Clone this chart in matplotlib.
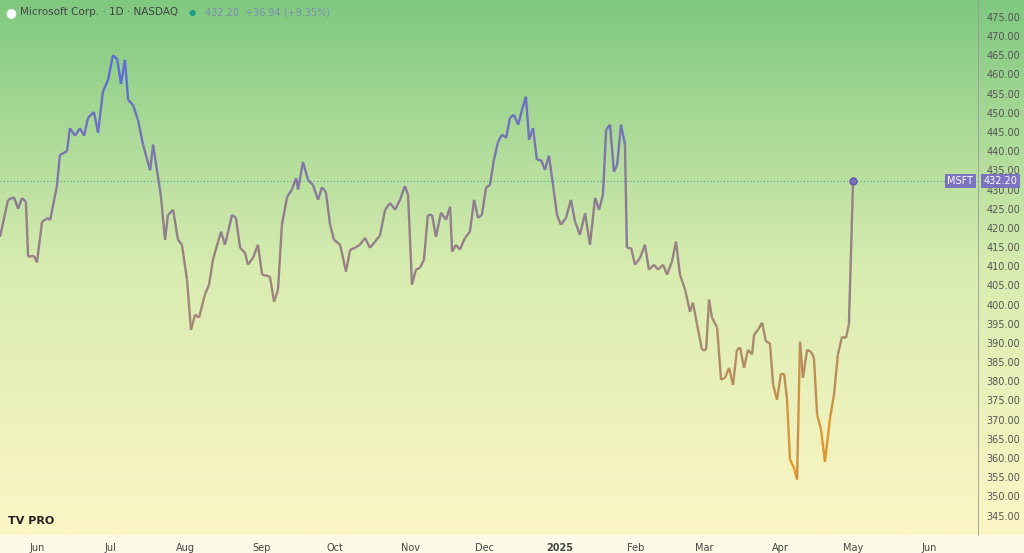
import matplotlib
matplotlib.use("Agg")
import matplotlib.pyplot as plt
import matplotlib.dates as mdates
import numpy as np
import pandas as pd
from matplotlib.collections import LineCollection
from matplotlib.colors import LinearSegmentedColormap

# ---------------------------------------------------------------------------
# 数据：MSFT 日线收盘价
# ---------------------------------------------------------------------------
START_DATE = "2024-05-17"
DAY_OFFSETS = [
    0, 3.3, 5.7, 7.4, 9, 10.6, 11.5, 13.9, 15.1, 17.2, 19.6, 20.5, 23.3, 24.5, 27.4, 28.6,
    30.7, 32.7, 34.4, 36, 38.4, 40.1, 42.1, 44.2, 46.2, 47.9, 49.5, 51.1, 52.4, 54.4, 56.4,
    58.5, 61.4, 62.6, 64.2, 65.8, 67.5, 68.7, 70.8, 72.8, 74.4, 76.5, 78.1, 79.8, 81.4, 83.8,
    85.5, 87.1, 89.2, 90.4, 92, 93.3, 94.9, 96.5, 98.2, 100.2, 101.4, 103.5, 105.5, 107.2,
    110.4, 112.1, 113.7, 115.3, 117.4, 119.4, 121.1, 121.9, 123.9, 126, 128, 130.1, 131.7,
    133.3, 135, 136.6, 139.1, 141.5, 143.2, 145.2, 147.2, 149.3, 151.3, 153.4, 155.4, 157.5,
    159.5, 161.6, 163.6, 165.6, 166.9, 168.5, 170.1, 171.8, 173.4, 175, 176.7, 178.3, 180.4,
    182.4, 184.1, 184.9, 186.5, 188.1, 190.2, 192.2, 193.9, 195.5, 197.1, 198.8, 200.4, 202,
    203.7, 205.3, 207, 208.6, 210.2, 211.9, 213.5, 215.1, 216.4, 218, 219.6, 221.3, 222.9,
    224.5, 226.2, 227.8, 229.4, 231.5, 233.5, 235.2, 237.2, 239.3, 241.3, 243.4, 245, 246.6,
    247.9, 249.5, 251.1, 252.4, 254, 255.6, 256.4, 258.1, 259.7, 261.8, 263.8, 265.4, 267.5,
    269.1, 271.2, 272.8, 274.8, 276.5, 278.1, 280.2, 282.2, 283.4, 285.1, 287.1, 288.8, 290,
    291.2, 293.3, 294.9, 296.5, 298.2, 299.8, 301.4, 302.7, 304.3, 305.9, 307.6, 308.4, 310,
    311.7, 313.3, 314.9, 316.2, 317.8, 319.4, 320.7, 321.9, 323.1, 324.7, 326, 327.2, 328.4,
    330.1, 331.7, 332.9, 334.2, 335.8, 337.4, 339.5, 341.1, 342.7, 344.4, 346, 347.2, 348.9,
]
CLOSES = [
    417.7, 427.3, 428, 425, 427.8, 426.8, 412.5, 412.7, 411, 421.6, 422.6, 422, 431, 439, 440, 446,
    444, 446, 444, 448.7, 450.2, 444.8, 455.5, 458.6, 465, 464, 457.5, 463.8, 453.4, 452, 448.2,
    441.7, 435, 441.7, 435, 428.4, 416.9, 423.4, 424.7, 416.9, 415.6, 406.5, 393.4, 397.4, 396.6, 402.6,
    405.2, 411.7, 416.4, 419, 415.6, 419, 423.4, 422.6, 414.8, 413.5, 410.4, 412.2, 415.6, 407.8,
    407.3, 400.7, 403.9, 420.8, 428, 430, 433, 430, 437.2, 432.5, 431.2, 427.3, 430.6,
    429.3, 420.8, 416.9, 415.6, 408.6, 414.3, 414.8, 415.6, 417.4, 414.8, 416.4, 418, 424.7,
    426.5, 424.7, 427.3, 430.9, 428.6, 405.2, 409.1, 409.6, 411.7, 423.4, 423.4, 417.7, 424,
    422.1, 425.5, 413.8, 415.6, 414.3, 417.4, 419, 427.3, 422.6, 423.4, 430.5, 431.2, 437.7,
    442.4, 444.3, 443.5, 448.7, 449.5, 446.9, 450.7, 454.2, 443, 446, 437.7, 437.7, 435.1,
    438.8, 431.2, 423.4, 420.8, 422.6, 427.3, 421.6, 418.2, 423.8, 415.6, 427.8, 424.7, 428.6,
    445.6, 446.9, 434.6, 436.4, 446.9, 441.7, 414.8, 414.8, 410.4, 412.2, 415.6, 409.1, 410.4,
    409.1, 410.4, 407.8, 411.2, 416.4, 407.8, 403.9, 398.1, 400.5, 394.8, 388.2, 388.2, 401.3,
    396.6, 394, 380.4, 380.9, 383.5, 379.1, 388.2, 388.8, 383.5, 388.2, 387, 392.1, 393.4,
    395.3, 390.3, 390, 379.1, 375.2, 382, 382, 375.2, 359.6, 357.5, 354.4, 390.3, 380.9,
    388.2, 387.7, 386.1, 371.3, 367.4, 359, 370.5, 376.5, 387, 391.6, 391.3, 394.8, 432.2,
]

LAST_PRICE = 432.20
HEADER_TITLE = "Microsoft Corp. · 1D · NASDAQ"
HEADER_QUOTE = "432.20  +36.94 (+9.35%)"
Y_TICKS = list(range(345, 480, 5))
MONTH_TICKS = ["2024-06-01", "2024-07-01", "2024-08-01", "2024-09-01", "2024-10-01",
               "2024-11-01", "2024-12-01", "2025-01-01", "2025-02-01", "2025-03-01",
               "2025-04-01", "2025-05-01", "2025-06-01"]
MONTH_LABELS = ["Jun", "Jul", "Aug", "Sep", "Oct", "Nov", "Dec", "2025",
                "Feb", "Mar", "Apr", "May", "Jun"]

dates = pd.Timestamp(START_DATE) + pd.to_timedelta(DAY_OFFSETS, unit="D")
x = mdates.date2num(dates.to_pydatetime())
y = np.array(CLOSES)

fig = plt.figure(figsize=(10.24, 5.53), dpi=100)
fig.patch.set_facecolor("#fdfbe8")

# 整幅背景渐变（含右侧价格轴区域）
bg_ax = fig.add_axes([0, 0.033, 1, 0.967])
bg = LinearSegmentedColormap.from_list("bg", ["#fdf6c6", "#d8ecb0", "#7fc880"])
grad = np.linspace(0, 1, 256).reshape(-1, 1)
bg_ax.imshow(grad, aspect="auto", cmap=bg, origin="lower", extent=[0, 1, 0, 1])
bg_ax.axis("off")

ax = fig.add_axes([0, 0.033, 978 / 1024, 0.967])
ax.patch.set_alpha(0)

x0 = mdates.date2num(pd.Timestamp(START_DATE))
xlim = (x0, x0 + 400)
ylim = (340.0, 479.4)

# 价格线：按价格高低着色
line_cmap = LinearSegmentedColormap.from_list("ln", ["#f29a1c", "#a98a6e", "#8f7c90", "#5e6cd8"])
pts = np.column_stack([x, y]).reshape(-1, 1, 2)
segs = np.concatenate([pts[:-1], pts[1:]], axis=1)
lc = LineCollection(segs, cmap=line_cmap, norm=plt.Normalize(355, 460), linewidth=1.7, zorder=3)
lc.set_array((y[:-1] + y[1:]) / 2)
ax.add_collection(lc)

ax.axhline(LAST_PRICE, color="#3fa7a0", lw=0.8, ls=(0, (1, 2)), zorder=2)
ax.plot(x[-1], y[-1], "o", ms=5, color="#7b6fc2", mec="#5f55a8", zorder=4)

ax.set_xlim(xlim)
ax.set_ylim(ylim)

ax.yaxis.tick_right()
ax.set_yticks(Y_TICKS)
ax.set_yticklabels([f"{v:.2f}" for v in Y_TICKS], fontsize=7, color="#555555")
ax.tick_params(axis="y", length=0, pad=6)
ticks = mdates.date2num(pd.to_datetime(MONTH_TICKS).to_pydatetime())
ax.set_xticks(ticks)
ax.set_xticklabels(MONTH_LABELS, fontsize=7, color="#444444")
ax.get_xticklabels()[7].set_fontweight("bold")
ax.tick_params(axis="x", length=0, pad=6)
for side in ["top", "left", "bottom"]:
    ax.spines[side].set_visible(False)
ax.spines["right"].set_color("#999999")
ax.spines["right"].set_linewidth(0.6)

# 最新价格标签
ax.text(xlim[1] - 2, LAST_PRICE, "MSFT", ha="right", va="center", fontsize=7, color="white",
        bbox=dict(boxstyle="square,pad=0.25", fc="#7b72c0", ec="none"), zorder=5)
ax.annotate(f"{LAST_PRICE:.2f}", xy=(1, LAST_PRICE), xycoords=("axes fraction", "data"),
            xytext=(4, 0), textcoords="offset points", ha="left", va="center",
            fontsize=7, color="white", annotation_clip=False,
            bbox=dict(boxstyle="square,pad=0.25", fc="#7b72c0", ec="none"), zorder=5)

# 标题
fig.text(0.005, 0.978, "●", fontsize=9, color="white", va="center")
fig.text(0.02, 0.978, HEADER_TITLE, fontsize=7.5, color="#444444", va="center")
fig.text(0.184, 0.978, "●", fontsize=6, color="#1f9e84", va="center")
fig.text(0.2, 0.978, HEADER_QUOTE, fontsize=7, color="#7d8fb0", va="center")
fig.text(0.008, 0.058, "TV PRO", fontsize=8, fontweight="bold", color="#222222", va="center")

fig.savefig("out.png", dpi=100, facecolor=fig.get_facecolor())
plt.close(fig)
